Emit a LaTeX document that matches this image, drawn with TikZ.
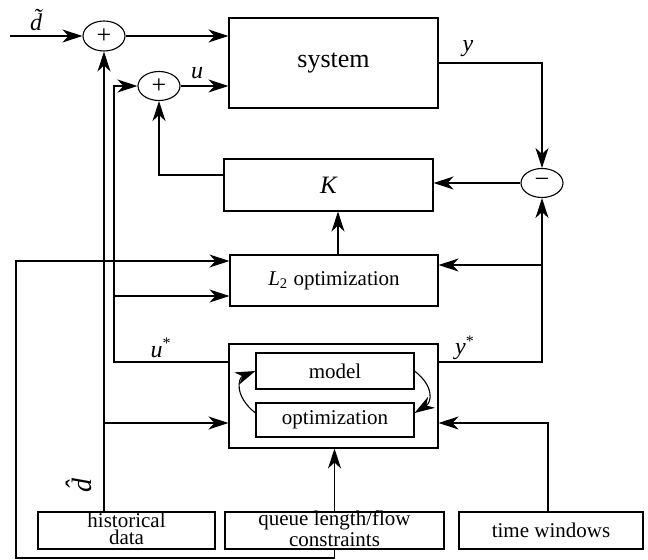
\documentclass[tikz,border=0pt]{standalone}
\usepackage{fontspec}
\setmainfont{Liberation Serif}
\usetikzlibrary{shapes.geometric,arrows.meta,calc}

\begin{document}
\begin{tikzpicture}[x=0.5pt,y=-0.5pt,
  line width=0.55pt,
  box/.style={draw, rectangle, inner sep=0pt, align=center,
    font=\fontsize{10.5}{8.6}\selectfont},
  boxtext/.style={inner sep=0pt, align=center,
    font=\fontsize{10.5}{8.6}\selectfont},
  sumnode/.style={draw, ellipse, inner sep=0pt, minimum width=21pt,
    minimum height=14.5pt, font=\fontsize{13}{13}\selectfont},
  lab/.style={inner sep=0pt, font=\fontsize{12}{12}\selectfont\itshape},
  flow/.style={-{Stealth[length=10pt,width=6.5pt,inset=3pt]}}]

\useasboundingbox (0,0) rectangle (648,560);

% blocks
\node[box, minimum width=104.5pt, minimum height=45pt,
  font=\fontsize{13}{13}\selectfont] (sys) at (333.5,63) {system};
\node[sumnode, minimum height=15pt] (plus1) at (104,36) {+};
\node[sumnode] (plus2) at (159,86) {+};
\node[box, minimum width=104.5pt, minimum height=26pt,
  font=\fontsize{12.5}{12.5}\selectfont\itshape] (K) at (328.5,185) {K};
\node[sumnode] (minus) at (542,183) {−};
\node[box, minimum width=104pt, minimum height=25.5pt] (L2) at (334,280.5)
  {\textit{L}\textsubscript{2} optimization};
\node[box, minimum width=104.5pt, minimum height=52pt] (outer) at (333.5,396) {};
\node[box, minimum width=79pt, minimum height=18pt] (model) at (335,371) {model};
\node[box, minimum width=79pt, minimum height=17pt] (opt) at (335,420) {optimization};
\node[box, minimum width=88.5pt, minimum height=18.5pt] (hist) at (126.5,530.5) {};
\node[boxtext] (histtext) at ([yshift=1pt]hist.center) {historical\\data};
\node[box, minimum width=109.5pt, minimum height=18.5pt] (queue) at (334.5,530.5) {};
\node[boxtext] (queuetext) at ([yshift=1pt]queue.center) {queue length/flow\\constraints};
\node[box, minimum width=92pt, minimum height=18.5pt] (time) at (551,530.5)
  {time windows};

% bend points
\coordinate (dt) at (10,36);
\coordinate (ua) at (114,362);
\coordinate (ub) at (114,86);
\coordinate (ul) at (114,296);
\coordinate (yb) at (542,265);
\coordinate (hb) at (104,423);
\coordinate (q1) at (334.5,558);
\coordinate (q2) at (16,558);
\coordinate (q3) at (16,261);
\coordinate (tc) at (548,423);

% forward path
\draw[flow] (dt) -- (plus1);
\draw[flow] (plus1.east) -- (plus1.east -| sys.west);
\draw[flow] (plus2.east) -- (plus2.east -| sys.west);
\draw[flow] (sys.east) -- (sys.east -| minus) -- (minus.north);
\draw[flow] (minus.west) -- (minus.west -| K.east);
\draw[flow] ([yshift=5pt]K.west) -| (plus2.south);
\draw[flow] ([xshift=2pt]L2.north) -- ([xshift=2pt]L2.north |- K.south);

% reference trajectories
\draw[flow] ([yshift=17pt]outer.east) -| (minus.south);
\draw[flow] (yb) -- (yb -| L2.east);
\draw[flow] ([yshift=17pt]outer.west) -- (ua) -- (ub) -- (plus2.west);
\draw[flow] (ul) -- (ul -| L2.west);

% data inputs
\draw[flow] (hist.north -| plus1.south) -- (plus1.south);
\draw[flow] (hb) -- (hb -| outer.west);
\draw[flow] (queue.north) -- (queue.north |- outer.south);
\draw[flow] (queue.south) -- (q1) -- (q2) -- (q3) -- (q3 -| L2.west);
\draw[flow] (time.north -| tc) -- (tc) -- (tc -| outer.east);

% model / optimization loop
\draw[flow] ([yshift=3.5pt]opt.west) .. controls (234,396) and (238,378) .. (model.west);
\draw[flow] (model.east) .. controls (434,386) and (432,402) .. ([yshift=3.5pt]opt.east);

% signal labels
\node[lab] (dtilde) at (36,20) {\~{d}};
\node[lab] (ulab) at (197,73) {u};
\node[lab] (ylab) at (468,49) {y};
\node[lab] (ustar) at (161,348) {u\textsuperscript{\upshape *}};
\node[lab] (ystar) at (465,348) {y\textsuperscript{\upshape *}};
\node[lab, rotate=90, font=\fontsize{14}{14}\selectfont\itshape] (dhat) at (79,486) {\^{d}};
\end{tikzpicture}
\end{document}
